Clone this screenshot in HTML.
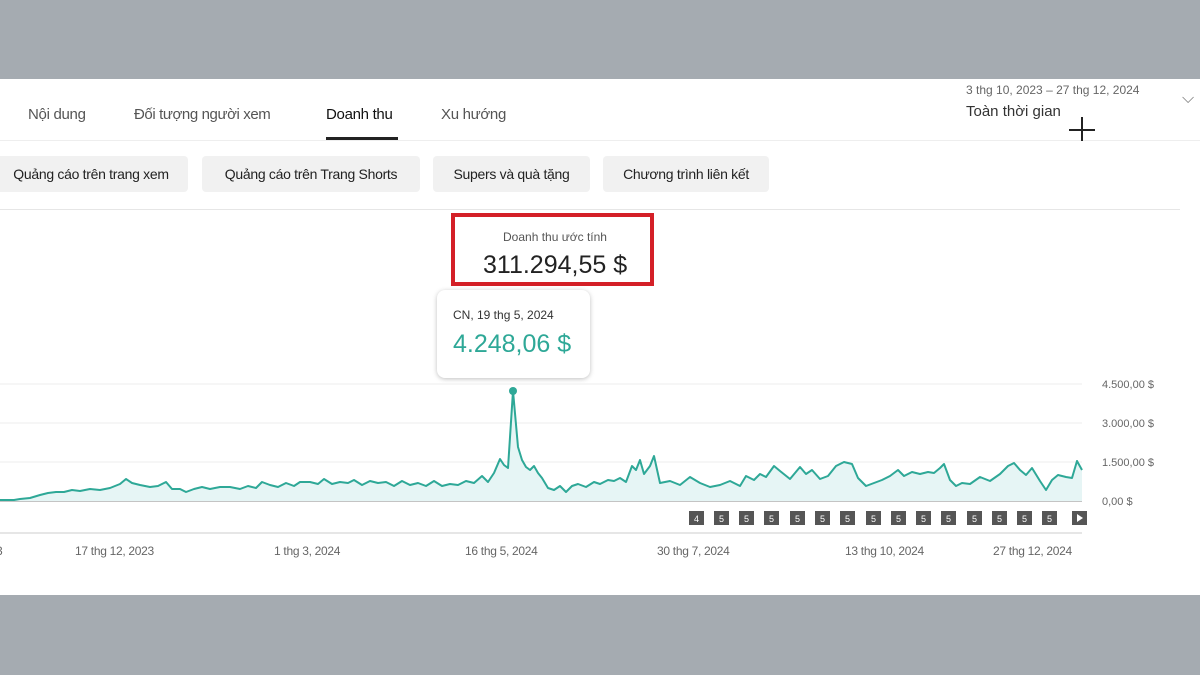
<!DOCTYPE html>
<html><head><meta charset="utf-8"><style>
body{margin:0;width:1200px;height:675px;background:#a5abb1;position:relative;overflow:hidden;font-family:"Liberation Sans",sans-serif;}
.panel{position:absolute;left:0;top:79px;width:1200px;height:516px;background:#fff;}
.t{position:absolute;white-space:nowrap;}
.chip{position:absolute;top:156px;height:36px;background:#f1f1f1;border-radius:4px;font-size:14px;color:#222;line-height:36px;text-align:center;letter-spacing:-0.3px;}
</style></head><body>
<div class="panel"></div>
<div class="t" style="left:28px;top:106px;font-size:15px;color:#555;letter-spacing:-0.3px">Nội dung</div>
<div class="t" style="left:134px;top:106px;font-size:15px;color:#555;letter-spacing:-0.4px">Đối tượng người xem</div>
<div class="t" style="left:326px;top:106px;font-size:15px;color:#111;letter-spacing:-0.3px">Doanh thu</div>
<div style="position:absolute;left:326px;top:137px;width:72px;height:3px;background:#222"></div>
<div class="t" style="left:441px;top:106px;font-size:15px;color:#555;letter-spacing:-0.3px">Xu hướng</div>
<div style="position:absolute;left:0;top:140px;width:1200px;height:1px;background:#eee"></div>
<div class="t" style="left:966px;top:83px;font-size:12px;color:#666">3 thg 10, 2023 – 27 thg 12, 2024</div>
<div class="t" style="left:966px;top:103px;font-size:15px;color:#333">Toàn thời gian</div>
<div class="t" style="left:1182px;top:90px;font-size:16px;color:#777">⌵</div>
<div style="position:absolute;left:1081px;top:117px;width:1.5px;height:24px;background:#222"></div>
<div style="position:absolute;left:1069px;top:129px;width:26px;height:1.5px;background:#222"></div>
<div class="chip" style="left:-6px;width:194px">Quảng cáo trên trang xem</div>
<div class="chip" style="left:202px;width:218px">Quảng cáo trên Trang Shorts</div>
<div class="chip" style="left:433px;width:157px">Supers và quà tặng</div>
<div class="chip" style="left:603px;width:166px">Chương trình liên kết</div>
<div style="position:absolute;left:0;top:209px;width:1180px;height:1px;background:#e6e6e6"></div>
<div style="position:absolute;left:451px;top:213px;width:203px;height:73px;border:4px solid #d42027;box-sizing:border-box"></div>
<div class="t" style="left:0;width:1110px;text-align:center;top:230px;font-size:12px;color:#555">Doanh thu ước tính</div>
<div class="t" style="left:483px;top:251px;font-size:25px;color:#222">311.294,55 $</div>
<div style="position:absolute;left:437px;top:290px;width:153px;height:88px;background:#fff;border-radius:8px;box-shadow:0 1px 5px rgba(0,0,0,.25)"></div>
<div class="t" style="left:453px;top:308px;font-size:12px;color:#333">CN, 19 thg 5, 2024</div>
<div class="t" style="left:453px;top:330px;font-size:25px;color:#2ea897">4.248,06 $</div>
<svg style="position:absolute;left:0;top:0" width="1200" height="675">
<g stroke="#eeeeee" stroke-width="1"><line x1="0" y1="384" x2="1082" y2="384"/><line x1="0" y1="423" x2="1082" y2="423"/><line x1="0" y1="462" x2="1082" y2="462"/></g>
<line x1="0" y1="501" x2="1082" y2="501" stroke="#888" stroke-width="1"/>
<line x1="0" y1="533" x2="1082" y2="533" stroke="#ccc" stroke-width="1"/>
<line x1="513" y1="391" x2="513" y2="501" stroke="#cfe" stroke-width="1"/>
<polygon fill="#e6f5f5" points="0,501 0,500 14,500 20,499 30,498 40,495 48,493 56,492 64,492 72,490 80,491 90,489 100,490 110,488 120,484 126,479 132,483 140,485 150,487 158,486 166,482 172,489 180,489 186,492 194,489 202,487 210,489 220,487 230,487 240,489 248,486 256,488 262,482 270,485 278,487 286,483 294,486 300,482 310,482 318,484 324,479 332,484 340,482 348,483 354,480 362,485 370,481 378,483 386,482 394,486 402,481 410,485 418,483 426,486 434,481 442,486 450,484 458,485 466,481 474,483 482,476 488,482 494,473 500,459 504,465 508,468 513,391 518,447 522,460 526,467 530,470 534,466 538,473 542,478 548,488 554,490 560,486 566,492 572,486 578,484 586,487 594,482 600,484 608,480 614,481 620,478 626,482 632,466 636,470 640,460 644,474 650,466 654,456 660,483 670,481 680,485 690,477 700,483 710,487 720,485 730,481 740,486 746,476 754,480 760,474 766,477 774,466 780,471 790,479 800,467 806,474 812,470 820,479 828,476 836,466 844,462 852,464 858,478 866,486 874,483 882,480 890,476 898,470 904,476 912,472 920,474 928,472 934,473 940,468 944,464 950,480 956,486 962,483 970,484 980,477 990,481 1000,474 1008,466 1014,463 1020,470 1026,475 1032,468 1040,481 1046,490 1052,480 1058,475 1066,477 1072,478 1077,461 1082,470 1082,501"/>
<polyline fill="none" stroke="#2ea897" stroke-width="2" stroke-linejoin="round" points="0,500 14,500 20,499 30,498 40,495 48,493 56,492 64,492 72,490 80,491 90,489 100,490 110,488 120,484 126,479 132,483 140,485 150,487 158,486 166,482 172,489 180,489 186,492 194,489 202,487 210,489 220,487 230,487 240,489 248,486 256,488 262,482 270,485 278,487 286,483 294,486 300,482 310,482 318,484 324,479 332,484 340,482 348,483 354,480 362,485 370,481 378,483 386,482 394,486 402,481 410,485 418,483 426,486 434,481 442,486 450,484 458,485 466,481 474,483 482,476 488,482 494,473 500,459 504,465 508,468 513,391 518,447 522,460 526,467 530,470 534,466 538,473 542,478 548,488 554,490 560,486 566,492 572,486 578,484 586,487 594,482 600,484 608,480 614,481 620,478 626,482 632,466 636,470 640,460 644,474 650,466 654,456 660,483 670,481 680,485 690,477 700,483 710,487 720,485 730,481 740,486 746,476 754,480 760,474 766,477 774,466 780,471 790,479 800,467 806,474 812,470 820,479 828,476 836,466 844,462 852,464 858,478 866,486 874,483 882,480 890,476 898,470 904,476 912,472 920,474 928,472 934,473 940,468 944,464 950,480 956,486 962,483 970,484 980,477 990,481 1000,474 1008,466 1014,463 1020,470 1026,475 1032,468 1040,481 1046,490 1052,480 1058,475 1066,477 1072,478 1077,461 1082,470"/>
<circle cx="513" cy="391" r="4" fill="#2ea897"/>
<g font-family="Liberation Sans, sans-serif" font-size="11" fill="#666">
<text x="1102" y="388">4.500,00 $</text><text x="1102" y="427">3.000,00 $</text><text x="1102" y="466">1.500,00 $</text><text x="1102" y="505">0,00 $</text>
<g font-size="12" letter-spacing="-0.3"><text x="-4" y="555">3</text><text x="75" y="555">17 thg 12, 2023</text><text x="274" y="555">1 thg 3, 2024</text><text x="465" y="555">16 thg 5, 2024</text><text x="657" y="555">30 thg 7, 2024</text><text x="845" y="555">13 thg 10, 2024</text><text x="993" y="555">27 thg 12, 2024</text></g>
</g>
<g fill="#555">
<rect x="689" y="511" width="15" height="14"/><rect x="714" y="511" width="15" height="14"/><rect x="739" y="511" width="15" height="14"/><rect x="764" y="511" width="15" height="14"/><rect x="790" y="511" width="15" height="14"/><rect x="815" y="511" width="15" height="14"/><rect x="840" y="511" width="15" height="14"/><rect x="866" y="511" width="15" height="14"/><rect x="891" y="511" width="15" height="14"/><rect x="916" y="511" width="15" height="14"/><rect x="941" y="511" width="15" height="14"/><rect x="967" y="511" width="15" height="14"/><rect x="992" y="511" width="15" height="14"/><rect x="1017" y="511" width="15" height="14"/><rect x="1042" y="511" width="15" height="14"/><rect x="1072" y="511" width="15" height="14"/>
</g>
<g font-family="Liberation Sans, sans-serif" font-size="9" fill="#fff" text-anchor="middle">
<text x="696.5" y="522">4</text><text x="721.5" y="522">5</text><text x="746.5" y="522">5</text><text x="771.5" y="522">5</text><text x="797.5" y="522">5</text><text x="822.5" y="522">5</text><text x="847.5" y="522">5</text><text x="873.5" y="522">5</text><text x="898.5" y="522">5</text><text x="923.5" y="522">5</text><text x="948.5" y="522">5</text><text x="974.5" y="522">5</text><text x="999.5" y="522">5</text><text x="1024.5" y="522">5</text><text x="1049.5" y="522">5</text>
</g>
<polygon points="1077,514 1077,522 1083,518" fill="#fff"/>
</svg>
</body></html>
